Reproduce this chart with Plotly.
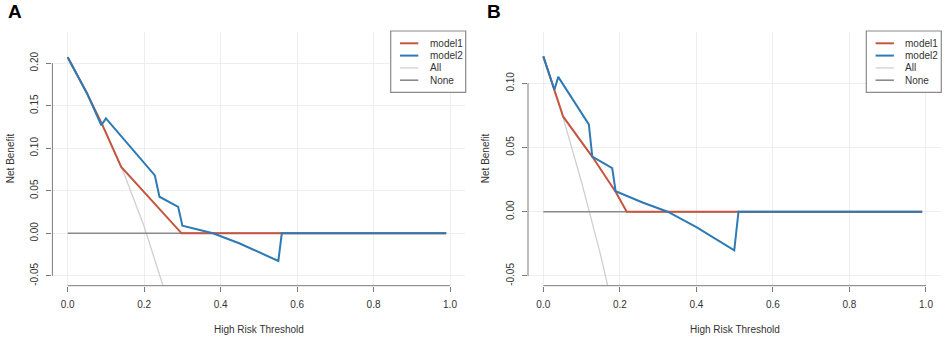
import plotly.graph_objects as go

# ---------------- data ----------------
x_tick_vals = [0.0, 0.2, 0.4, 0.6, 0.8, 1.0]
x_tick_text = ["0.0", "0.2", "0.4", "0.6", "0.8", "1.0"]

a_y_tick_vals = [-0.05, 0.00, 0.05, 0.10, 0.15, 0.20]
a_y_tick_text = ["-0.05", "0.00", "0.05", "0.10", "0.15", "0.20"]
b_y_tick_vals = [-0.05, 0.00, 0.05, 0.10]
b_y_tick_text = ["-0.05", "0.00", "0.05", "0.10"]

series_names = ["model1", "model2", "All", "None"]

# Panel A
a_model1_x = [0.0, 0.05, 0.09, 0.14, 0.298, 0.56, 0.99]
a_model1_y = [0.207, 0.165, 0.128, 0.078, 0.0, 0.0, 0.0]
a_model2_x = [0.0, 0.05, 0.088, 0.100, 0.228, 0.240, 0.289, 0.300, 0.380, 0.450, 0.551, 0.560, 0.99]
a_model2_y = [0.207, 0.165, 0.127, 0.135, 0.068, 0.043, 0.031, 0.009, 0.0, -0.012, -0.0325, 0.0, 0.0]
a_all_x = [0.0, 0.05, 0.10, 0.15, 0.20, 0.25, 0.30]
a_all_y = [0.207, 0.165, 0.119, 0.067, 0.008, -0.058, -0.133]
a_none_x = [0.0, 0.99]
a_none_y = [0.0, 0.0]

# Panel B
b_model1_x = [0.0, 0.029, 0.052, 0.13, 0.19, 0.218, 0.51, 0.99]
b_model1_y = [0.121, 0.095, 0.074, 0.042, 0.015, 0.0, 0.0, 0.0]
b_model2_x = [0.0, 0.029, 0.039, 0.119, 0.128, 0.180, 0.189, 0.261, 0.325, 0.400, 0.499, 0.510, 0.99]
b_model2_y = [0.121, 0.095, 0.105, 0.068, 0.043, 0.034, 0.016, 0.007, 0.0, -0.012, -0.030, 0.0, 0.0]
b_all_x = [0.0, 0.05, 0.10, 0.15, 0.20, 0.25]
b_all_y = [0.121, 0.075, 0.023, -0.034, -0.099, -0.172]
b_none_x = [0.0, 0.99]
b_none_y = [0.0, 0.0]

# ---------------- styles ----------------
W, H = 945, 340
C_M1 = "#c4553f"
C_M2 = "#2e7ab4"
C_ALL = "#cfcfcf"
C_NONE = "#8a8a8a"
AX = "#7a7a7a"
TXT = "#333333"
FONT = "Liberation Sans, Arial, sans-serif"

def px(x):
    return x / W

def py(y):
    return 1 - y / H

dom_a = [px(52.4), px(465.3)]
dom_b = [px(528.0), px(941.3)]
dom_y = [py(285.7), py(31.7)]

fig = go.Figure()

def add_panel(xa, ya, m1x, m1y, m2x, m2y, allx, ally, nonex, noney):
    fig.add_trace(go.Scatter(x=allx, y=ally, mode="lines", line=dict(color=C_ALL, width=1.3),
                             xaxis=xa, yaxis=ya, showlegend=False, name="All"))
    fig.add_trace(go.Scatter(x=nonex, y=noney, mode="lines", line=dict(color=C_NONE, width=1.6),
                             xaxis=xa, yaxis=ya, showlegend=False, name="None"))
    fig.add_trace(go.Scatter(x=m1x, y=m1y, mode="lines", line=dict(color=C_M1, width=2),
                             xaxis=xa, yaxis=ya, showlegend=False, name="model1"))
    fig.add_trace(go.Scatter(x=m2x, y=m2y, mode="lines", line=dict(color=C_M2, width=2),
                             xaxis=xa, yaxis=ya, showlegend=False, name="model2"))

add_panel("x", "y", a_model1_x, a_model1_y, a_model2_x, a_model2_y, a_all_x, a_all_y, a_none_x, a_none_y)
add_panel("x2", "y2", b_model1_x, b_model1_y, b_model2_x, b_model2_y, b_all_x, b_all_y, b_none_x, b_none_y)

tickfont = dict(family=FONT, size=10, color=TXT)
xcommon = dict(range=[-0.04, 1.04], tickvals=x_tick_vals, ticktext=x_tick_text, showline=False,
               ticks="outside", ticklen=5, tickcolor=AX, tickwidth=1, showgrid=True,
               gridcolor="#eeeeee", gridwidth=1, zeroline=False, tickfont=tickfont,
               ticklabelstandoff=4)
ycommon = dict(showline=False, ticks="outside", ticklen=5, tickcolor=AX, tickwidth=1, showgrid=True,
               gridcolor="#eeeeee", gridwidth=1, zeroline=False, tickfont=tickfont, tickangle=-90,
               ticklabelstandoff=4)

fig.update_layout(
    width=W, height=H, margin=dict(l=0, r=0, t=0, b=0),
    paper_bgcolor="white", plot_bgcolor="white", showlegend=False,
    xaxis=dict(domain=dom_a, anchor="y", **xcommon),
    yaxis=dict(domain=dom_y, anchor="x", range=[-0.0616, 0.237],
               tickvals=a_y_tick_vals, ticktext=a_y_tick_text, **ycommon),
    xaxis2=dict(domain=dom_b, anchor="y2", **xcommon),
    yaxis2=dict(domain=dom_y, anchor="x2", range=[-0.0576, 0.1402],
                tickvals=b_y_tick_vals, ticktext=b_y_tick_text, **ycommon),
)

shapes = []
annotations = []

# axis lines spanning the tick range (R style)
for xr, yr, dom_x, yv in (("x", "y", dom_a, a_y_tick_vals), ("x2", "y2", dom_b, b_y_tick_vals)):
    shapes.append(dict(type="line", xref=xr, yref="paper", x0=x_tick_vals[0], x1=x_tick_vals[-1],
                       y0=dom_y[0], y1=dom_y[0], line=dict(color=AX, width=1)))
    shapes.append(dict(type="line", xref="paper", yref=yr, x0=dom_x[0], x1=dom_x[0],
                       y0=yv[0], y1=yv[-1], line=dict(color=AX, width=1)))

# manual legends
legend_colors = [C_M1, C_M2, C_ALL, C_NONE]
legend_widths = [2, 2, 1.3, 1.6]
for off in (0.0, 475.6):
    shapes.append(dict(type="rect", xref="paper", yref="paper",
                       x0=px(390.7 + off), x1=px(465.7 + off), y0=py(92.3), y1=py(31.0),
                       line=dict(color="#8a8a8a", width=1.2), fillcolor="white"))
    for i, (name, col, lw) in enumerate(zip(series_names, legend_colors, legend_widths)):
        yy = 43.3 + i * 12.3
        shapes.append(dict(type="line", xref="paper", yref="paper",
                           x0=px(400 + off), x1=px(418.3 + off), y0=py(yy), y1=py(yy),
                           line=dict(color=col, width=lw)))
        annotations.append(dict(x=px(427.7 + off), y=py(yy), xref="paper", yref="paper",
                                text=name, showarrow=False, xanchor="left", yanchor="middle",
                                font=dict(family=FONT, size=10, color=TXT)))

# axis titles
for cx, ylab_x in ((258.9, 10.5), (734.6, 485.5)):
    annotations.append(dict(x=px(cx), y=py(329), xref="paper", yref="paper", text="High Risk Threshold",
                            showarrow=False, xanchor="center", yanchor="middle",
                            font=dict(family=FONT, size=10, color=TXT)))
    annotations.append(dict(x=px(ylab_x), y=py(158.7), xref="paper", yref="paper", text="Net Benefit",
                            showarrow=False, xanchor="center", yanchor="middle", textangle=-90,
                            font=dict(family=FONT, size=10, color=TXT)))

# panel letters
for letter, cx in (("A", 15.5), ("B", 494.5)):
    annotations.append(dict(x=px(cx), y=py(12), xref="paper", yref="paper", text="<b>%s</b>" % letter,
                            showarrow=False, xanchor="center", yanchor="middle",
                            font=dict(family=FONT, size=19, color="black")))

fig.update_layout(shapes=shapes, annotations=annotations)

fig.write_html("out.html", config={"displayModeBar": False},
               post_script="document.body.style.margin='0';document.body.style.overflow='hidden';")
